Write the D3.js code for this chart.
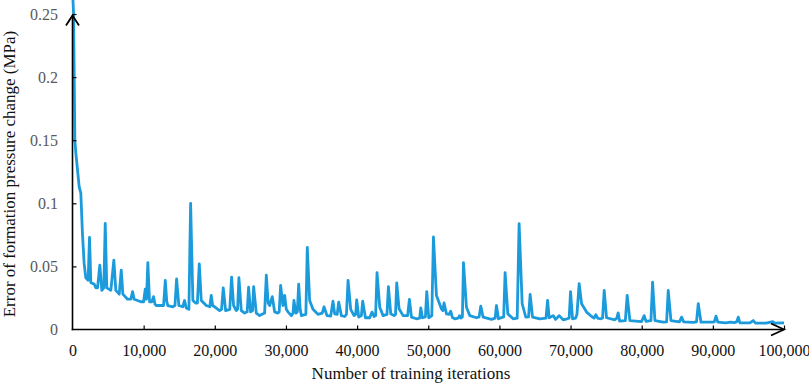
<!DOCTYPE html>
<html>
<head>
<meta charset="utf-8">
<script src="https://cdn.jsdelivr.net/npm/d3@7/dist/d3.min.js"></script>
<style>
html,body{margin:0;padding:0;background:#fff;}
svg{display:block;font-family:"Liberation Serif","Times New Roman",serif;}
</style>
</head>
<body>
<svg id="chart" width="809" height="384"></svg>
<script>
const iterations = [0,150,240,330,470,940,1170,1400,1640,1870,2200,2390,2580,3050,3300,3520,3840,4120,4400,4600,4820,5390,5810,6090,6570,6850,7080,7740,8200,8440,8670,9600,10000,10220,10400,10590,10830,11150,11390,11600,11770,12470,12800,13040,13250,13400,14110,14400,14630,14950,15500,15750,15990,16360,16600,16920,17300,17550,17820,18100,18800,19300,19500,19700,19970,20680,20950,21190,21520,22100,22360,22640,23020,23200,23390,23720,24190,24550,24750,25030,25300,25460,25830,26300,27000,27240,27500,27710,28080,28410,28880,29050,29250,29580,29820,30050,30280,30760,31000,31120,31400,31600,31790,32000,32170,32800,33000,33330,33800,34500,35100,35350,35770,36290,36610,36850,37200,37410,37790,38260,38500,38730,39100,39570,39800,39940,40230,40600,40790,41170,41770,42100,42380,42600,42800,43180,43650,44200,44400,44730,45190,45400,45570,45900,46460,47100,47350,47640,48340,48800,48950,49180,49600,49790,50070,50500,50730,51150,51850,52050,52220,52560,52950,53160,53400,53730,54200,54400,54600,54800,54950,55370,55840,56780,57150,57380,57710,58890,59400,59590,59870,60600,60800,61180,61930,62500,62770,63200,63710,64100,64320,64660,65680,66550,66770,67000,67560,67900,68400,68960,69500,69800,70000,70280,70700,70900,71210,71550,72250,72960,73300,73560,73800,74120,74500,74730,75060,76230,76500,76690,76900,77700,77960,78340,79980,80350,80600,81300,81530,81860,83030,83500,83730,84110,85300,85610,85900,87240,87700,87950,88330,89900,90200,90440,90700,91800,92500,93000,93350,93570,93800,95200,95680,96000,97500,98400,98700,100000];
const errorValues = [0.27,0.25,0.20,0.15,0.14,0.113,0.108,0.076,0.052,0.041,0.039,0.073,0.037,0.036,0.033,0.033,0.051,0.031,0.033,0.084,0.033,0.031,0.055,0.031,0.028,0.047,0.028,0.024,0.024,0.030,0.024,0.022,0.022,0.032,0.024,0.053,0.022,0.022,0.026,0.020,0.019,0.019,0.019,0.039,0.022,0.019,0.018,0.019,0.040,0.019,0.018,0.023,0.017,0.016,0.100,0.023,0.021,0.021,0.052,0.023,0.019,0.018,0.027,0.019,0.018,0.015,0.016,0.033,0.015,0.016,0.0415,0.019,0.015,0.016,0.041,0.015,0.013,0.014,0.0336,0.014,0.015,0.034,0.013,0.011,0.013,0.043,0.021,0.019,0.026,0.014,0.013,0.014,0.035,0.019,0.027,0.016,0.014,0.011,0.013,0.023,0.013,0.014,0.036,0.016,0.011,0.012,0.065,0.023,0.016,0.012,0.013,0.018,0.011,0.0106,0.0225,0.0124,0.012,0.0217,0.011,0.0103,0.012,0.039,0.016,0.011,0.012,0.0235,0.0098,0.011,0.0225,0.0093,0.0093,0.0138,0.0103,0.011,0.045,0.0177,0.011,0.012,0.034,0.0124,0.011,0.012,0.037,0.0164,0.011,0.011,0.0238,0.0098,0.0085,0.009,0.0172,0.0093,0.010,0.030,0.0093,0.011,0.0733,0.027,0.0164,0.015,0.021,0.0124,0.012,0.0145,0.0095,0.0085,0.009,0.011,0.009,0.010,0.053,0.0177,0.011,0.0093,0.010,0.0185,0.0098,0.008,0.009,0.019,0.0085,0.010,0.045,0.0124,0.0085,0.009,0.0839,0.0204,0.0098,0.010,0.0278,0.0098,0.0085,0.009,0.023,0.0093,0.011,0.008,0.011,0.0077,0.0085,0.009,0.030,0.0085,0.009,0.012,0.0363,0.0204,0.0138,0.0103,0.009,0.0117,0.009,0.0085,0.009,0.031,0.0093,0.0077,0.009,0.0132,0.0066,0.007,0.027,0.0071,0.0063,0.011,0.0065,0.007,0.0376,0.0071,0.0058,0.006,0.031,0.0071,0.006,0.0098,0.006,0.0056,0.006,0.0204,0.0058,0.0058,0.006,0.0106,0.0058,0.0052,0.0058,0.0055,0.006,0.0098,0.0052,0.0052,0.0071,0.005,0.005,0.0062,0.005,0.0053];

const xTickValues = [0,10000,20000,30000,40000,50000,60000,70000,80000,90000,100000];
const xTickLabels = ["0","10,000","20,000","30,000","40,000","50,000","60,000","70,000","80,000","90,000","100,000"];
const yTickValues = [0,0.05,0.1,0.15,0.2,0.25];
const yTickLabels = ["0","0.05","0.1","0.15","0.2","0.25"];
const xTitle = "Number of training iterations";
const yTitle = "Error of formation pressure change (MPa)";

const svg = d3.select("#chart");
const x = d3.scaleLinear().domain([0,100000]).range([72.5,784]);
const y = d3.scaleLinear().domain([0,0.25]).range([329.5,14]);

const data = iterations.map((v,i)=>({x:v,y:errorValues[i]}));

// line
const line = d3.line().x(d=>x(d.x)).y(d=>y(d.y));
svg.append("path")
  .datum(data)
  .attr("d", line)
  .attr("fill","none")
  .attr("stroke","#1c9bdc")
  .attr("stroke-width",2.8)
  .attr("stroke-linejoin","round");

// y axis
const yAxis = d3.axisLeft(y)
  .tickValues(yTickValues)
  .tickFormat((d,i)=>yTickLabels[i])
  .tickSizeInner(-4).tickSizeOuter(0).tickPadding(14.5);
const gy = svg.append("g").attr("transform",`translate(${x(0)},0)`).call(yAxis);
gy.select(".domain").remove();
gy.selectAll(".tick line").attr("stroke","#000").attr("stroke-width",1.2);
gy.selectAll(".tick").filter(d=>d===0).select("line").remove();
gy.selectAll(".tick text").attr("font-size",16).attr("fill","#595959")
  .attr("font-family","Liberation Serif, Times New Roman, serif");

// x axis
const xAxis = d3.axisBottom(x)
  .tickValues(xTickValues)
  .tickFormat((d,i)=>xTickLabels[i])
  .tickSizeInner(-4).tickSizeOuter(0).tickPadding(15.5);
const gx = svg.append("g").attr("transform",`translate(0,${y(0)})`).call(xAxis);
gx.select(".domain").remove();
gx.selectAll(".tick line").attr("stroke","#000").attr("stroke-width",1.2);
gx.selectAll(".tick").filter(d=>d===0).select("line").remove();
gx.selectAll(".tick text").attr("font-size",16).attr("fill","#111")
  .attr("font-family","Liberation Serif, Times New Roman, serif");

// axis lines with arrows
const x0 = x(0), y0 = y(0), yTop = y(0.25)+1.5, xEnd = x(100000);
svg.append("line").attr("x1",x0).attr("x2",x0).attr("y1",y0+0.75).attr("y2",yTop)
  .attr("stroke","#000").attr("stroke-width",1.6);
svg.append("path").attr("d",`M${x0-6.5},${yTop+10}L${x0},${yTop}L${x0+6.5},${yTop+10}`)
  .attr("fill","none").attr("stroke","#000").attr("stroke-width",1.8);
svg.append("line").attr("x1",x0-0.8).attr("x2",xEnd).attr("y1",y0).attr("y2",y0)
  .attr("stroke","#000").attr("stroke-width",1.6);
svg.append("path").attr("d",`M${xEnd-13},${y0-6}L${xEnd},${y0}L${xEnd-13},${y0+6}`)
  .attr("fill","none").attr("stroke","#000").attr("stroke-width",1.8);

// titles
svg.append("text").attr("x",411).attr("y",379).attr("text-anchor","middle")
  .attr("font-size",17).attr("fill","#111").text(xTitle);
svg.append("text").attr("transform","translate(15,174) rotate(-90)").attr("text-anchor","middle")
  .attr("font-size",17).attr("fill","#111").text(yTitle);
</script>
</body>
</html>
